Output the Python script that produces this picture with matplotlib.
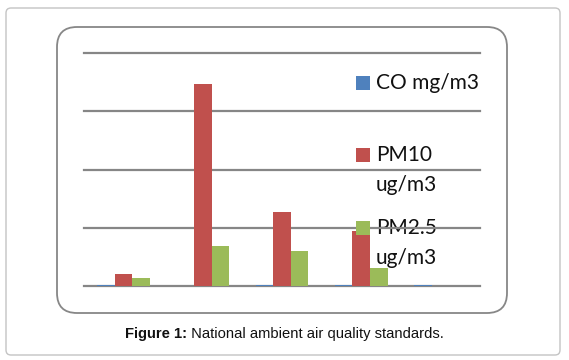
import matplotlib
matplotlib.use("Agg")
import matplotlib.pyplot as plt
from matplotlib.patches import FancyBboxPatch, Rectangle
import numpy as np

categories = ["1", "2", "3", "4", "5"]
series_names = ["CO mg/m3", "PM10\nug/m3", "PM2.5\nug/m3"]
co_values = [0.6, 0.3, 0.6, 1.5, 0.8]
pm10_values = [20, 347, 126.5, 94.3, 0]
pm25_values = [12.7, 68.4, 60.3, 30, 0]
colors = ["#4F81BD", "#C0504D", "#9BBB59"]
caption_bold = "Figure 1:"
caption_rest = " National ambient air quality standards."

W, H = 569, 360
fig = plt.figure(figsize=(W / 100, H / 100), dpi=100)
fig.patch.set_facecolor("white")

def px(x0, y0):
    return (x0 / 100.0, (H - y0) / 100.0)

# outer frame
ox0, oy0, ox1, oy1 = 6, 8, 560, 355
outer = FancyBboxPatch(px(ox0, oy1), (ox1 - ox0) / 100, (oy1 - oy0) / 100,
                       boxstyle="round,pad=0,rounding_size=0.05",
                       transform=fig.dpi_scale_trans, fc="white", ec="#c4c4c4", lw=1.0, zorder=0)
fig.patches.append(outer)

# inner chart frame
ix0, iy0, ix1, iy1 = 57, 27, 507, 313
inner = FancyBboxPatch(px(ix0, iy1), (ix1 - ix0) / 100, (iy1 - iy0) / 100,
                       boxstyle="round,pad=0,rounding_size=0.2",
                       transform=fig.dpi_scale_trans, fc="white", ec="#878787", lw=1.3, zorder=1)
fig.patches.append(inner)

# axes
L, R, T, B = 84, 480, 53.3, 285.7
ax = fig.add_axes([L / W, (H - B) / H, (R - L) / W, (B - T) / H])
ax.set_facecolor("none")
ax.set_zorder(2)
ax.set_xlim(-0.5, len(categories) - 0.5)
ax.set_ylim(0, 400)
ax.set_yticks([0, 100, 200, 300, 400])
ax.set_xticks([])
ax.tick_params(left=False, labelleft=False)
for s in ax.spines.values():
    s.set_visible(False)
ax.grid(axis="y", color="#868686", lw=1.6, zorder=1)
ax.set_axisbelow(False)
for gl in ax.get_ygridlines():
    gl.set_clip_on(False)
    gl.set_zorder(1)

x = np.arange(len(categories))
bw = 1 / 4.5
all_vals = [co_values, pm10_values, pm25_values]
for i, (vals, c) in enumerate(zip(all_vals, colors)):
    ax.bar(x + (i - 1) * bw, vals, width=bw, color=c, zorder=3, linewidth=0)

# legend (manual)
leg_y = [83, 155, 228]
line_gap = 30
for name, c, ly in zip(series_names, colors, leg_y):
    sq = Rectangle(px(356, ly + 7), 0.14, 0.14, transform=fig.dpi_scale_trans,
                   fc=c, ec="none", zorder=5)
    sq.set_clip_on(False)
    ax.add_artist(sq)
    for k, line in enumerate(name.split("\n")):
        ax.text(376 / 100, (H - ly - 6 - k * line_gap) / 100, line,
                transform=fig.dpi_scale_trans, ha="left", va="baseline",
                fontsize=15, family="Lato", color="#111111",
                zorder=0.5, clip_on=False)

# caption
fig.canvas.draw()
renderer = fig.canvas.get_renderer()
cy = (H - 338) / 100
t1 = fig.text(0, cy, caption_bold, transform=fig.dpi_scale_trans, fontsize=10.6,
              fontweight="bold", family="Liberation Sans", color="#111111", va="baseline")
t2 = fig.text(0, cy, caption_rest, transform=fig.dpi_scale_trans, fontsize=10.6,
              family="Liberation Sans", color="#111111", va="baseline")
w1 = t1.get_window_extent(renderer).width
w2 = t2.get_window_extent(renderer).width
start = 284.5 - (w1 + w2) / 2
t1.set_position((start / 100, cy))
t2.set_position(((start + w1) / 100, cy))

fig.savefig("out.png", dpi=100, facecolor="white")
